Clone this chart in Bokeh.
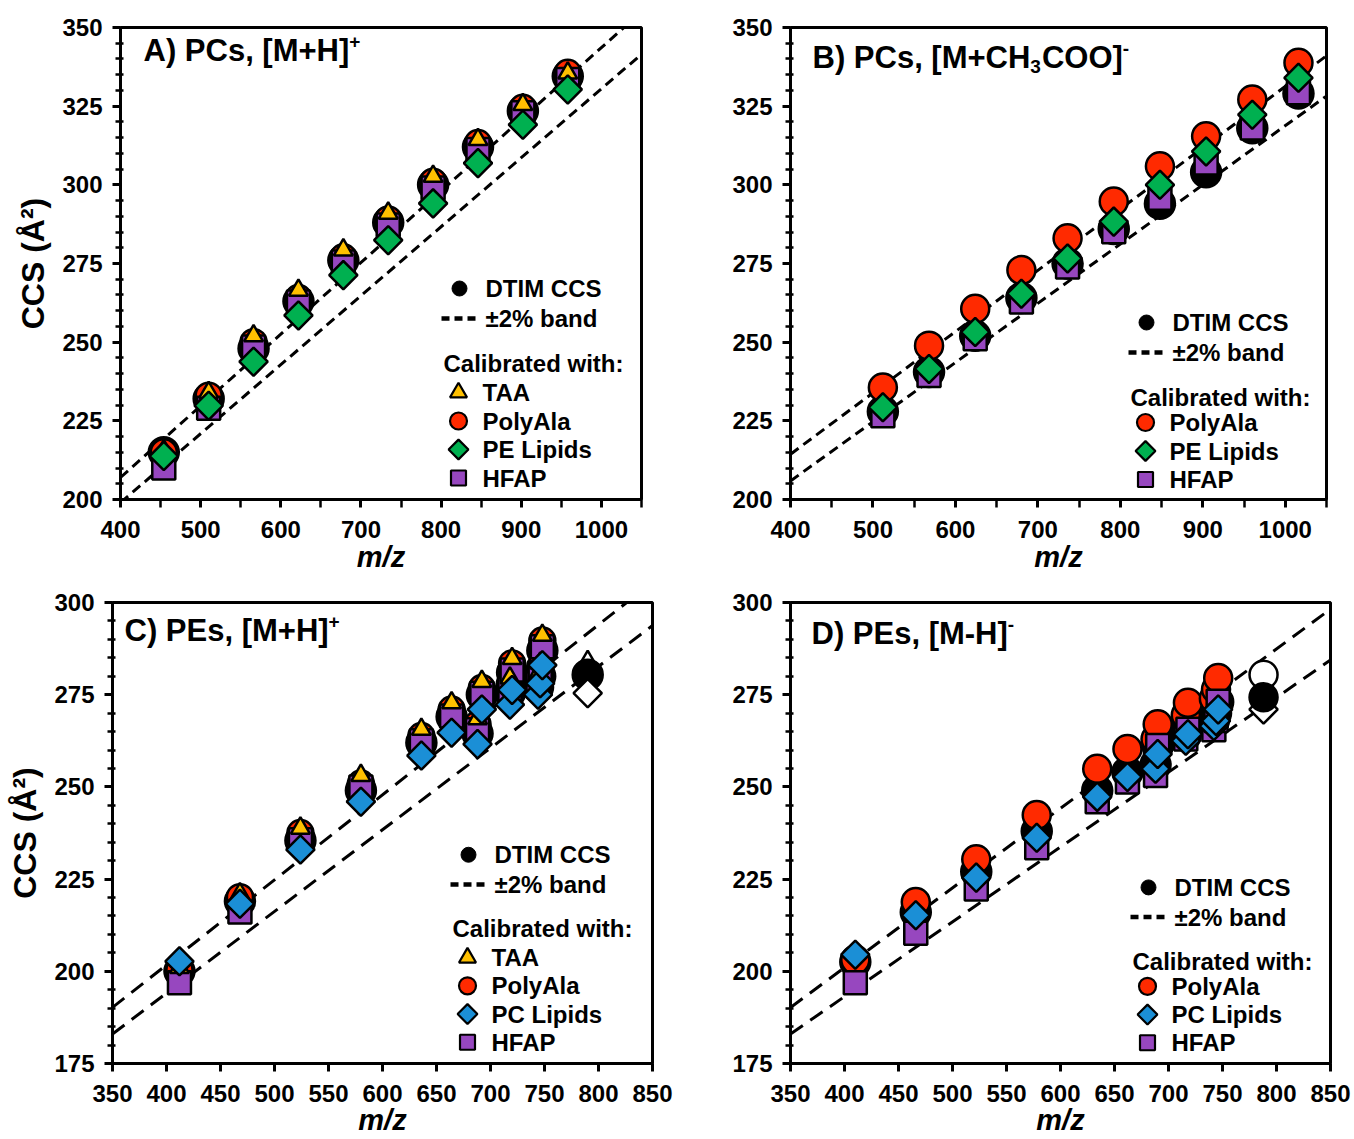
import numpy as np
from bokeh.plotting import figure
from bokeh.layouts import row, column
from bokeh.models import Range1d, FixedTicker
from bokeh.embed import file_html
from bokeh.resources import INLINE
from bokeh.core.properties import value

FONT = "Liberation Sans"
RED = "#FF2A00"
YELLOW = "#FFC000"
GREEN = "#00B050"
BLUE = "#1B8FD6"
PURPLE = "#9747BF"

# ---------------- data ----------------
# A) PCs [M+H]+
a_mz = [454, 510, 566, 622, 678, 734, 790, 846, 902, 958]
a_dtim = [215.0, 232.0, 248.0, 263.0, 276.0, 288.0, 300.0, 312.0, 323.5, 334.5]
a_taa = [215.5, 234.0, 252.0, 266.5, 279.3, 291.0, 302.7, 314.4, 325.5, 335.5]
a_polyala = [215.0, 233.0, 250.0, 264.0, 277.0, 289.0, 301.0, 313.3, 324.5, 335.6]
a_hfap = [210.0, 229.0, 248.5, 262.8, 275.5, 287.2, 299.0, 311.2, 322.9, 333.5]
a_lipid = [213.8, 229.8, 243.8, 258.5, 271.3, 282.4, 294.1, 306.9, 319.1, 330.3]
a_band_x = [400, 1050]
a_band_hi = [207.0, 355.0]
a_band_lo = [199.0, 341.5]

# B) PCs [M+CH3COO]-
b_mz = [512, 568, 624, 680, 736, 792, 848, 904, 960, 1016]
b_dtim = [228.0, 240.5, 252.0, 264.0, 275.0, 286.0, 294.0, 304.0, 318.0, 329.0]
b_polyala = [235.6, 248.9, 260.6, 272.9, 283.0, 294.7, 305.9, 315.4, 327.1, 338.8]
b_hfap = [226.6, 239.4, 251.1, 262.8, 273.9, 285.1, 295.7, 306.9, 318.1, 329.3]
b_lipid = [229.3, 241.5, 253.2, 265.4, 276.6, 288.3, 300.0, 310.6, 322.3, 334.0]
b_band_x = [400, 1050]
b_band_hi = [214.4, 341.0]
b_band_lo = [205.9, 328.2]

# C) PEs [M+H]+
c_mz = [412, 468, 524, 580, 636, 664, 688, 692, 718, 720, 744, 746, 748]
c_dtim = [200.0, 219.0, 235.5, 249.0, 262.0, 269.0, 264.5, 275.0, 275.5, 281.0, 277.0, 280.0, 287.0]
c_taa = [201.0, 221.0, 238.8, 253.1, 265.6, 272.8, 268.5, 278.6, 279.5, 284.8, 280.5, 283.5, 291.1]
c_polyala = [200.5, 220.1, 237.5, 250.9, 263.8, 271.0, 267.0, 276.8, 278.0, 283.5, 279.5, 282.5, 289.7]
c_hfap = [196.9, 216.1, 235.7, 250.0, 262.5, 269.2, 265.5, 275.4, 276.5, 281.7, 278.0, 281.0, 288.0]
c_lipid = [202.7, 218.3, 233.0, 246.0, 258.5, 264.7, 261.6, 271.0, 272.3, 276.3, 275.0, 278.1, 283.0]
c_out_mz = [790]
c_out_dtim = [280.4]
c_out_taa = [284.0]
c_out_lipid = [275.4]
c_band_x = [350, 850]
c_band_hi = [190.2, 305.5]
c_band_lo = [183.0, 293.75]

# D) PEs [M-H]-
d_mz = [410, 466, 522, 578, 634, 662, 688, 690, 716, 718, 742, 744, 746]
d_dtim = [202.5, 216.0, 227.0, 238.0, 249.0, 254.0, 256.0, 261.0, 264.0, 267.0, 268.0, 270.0, 273.0]
d_polyala = [203.1, 218.8, 230.4, 242.4, 254.9, 260.3, 263.0, 267.0, 269.5, 272.8, 274.0, 276.5, 279.5]
d_hfap = [196.9, 210.3, 222.3, 233.5, 246.0, 251.3, 253.1, 261.2, 263.0, 265.6, 265.5, 268.0, 273.2]
d_lipid = [204.5, 215.2, 225.4, 236.2, 247.3, 252.7, 254.9, 258.9, 262.5, 264.3, 266.5, 267.9, 271.0]
d_out_mz = [788]
d_out_polyala = [280.4]
d_out_dtim = [274.3]
d_out_lipid = [271.0]
d_band_x = [350, 850]
d_band_hi = [190.2, 298.2]
d_band_lo = [183.0, 284.4]

# Arial/Liberation Sans Bold advance widths (per 1000 em)
WIDTHS = {'A': 722, 'B': 722, 'C': 722, 'D': 722, 'E': 667, 'H': 722, 'M': 833, 'O': 778,
          'P': 667, '[': 333, ']': 333, ')': 333, ',': 278, ' ': 278, '+': 584, '-': 333,
          's': 556, '3': 556}


def text_w(s, size):
    return sum(WIDTHS.get(ch, 600) for ch in s) * size / 1000.0


def build(cfg):
    L, T, R, B = cfg["frame"]
    ox, oy = cfg["origin"]
    fw, fh = cfg["size"]
    x0, x1 = cfg["xr"]
    y0, y1 = cfg["yr"]
    p = figure(width=fw, height=fh, x_range=Range1d(x0, x1), y_range=Range1d(y0, y1),
               output_backend="svg", toolbar_location=None,
               min_border_left=L - ox, min_border_right=fw - (R - ox),
               min_border_top=T - oy, min_border_bottom=fh - (B - oy))
    p.grid.visible = False
    p.outline_line_color = "black"
    p.outline_line_width = 3
    p.background_fill_color = "white"
    p.border_fill_color = "white"

    def X(px):
        return x0 + px * (x1 - x0) / (R - L)

    def Y(py):
        return y1 - py * (y1 - y0) / (B - T)

    xa = p.xaxis[0]
    ya = p.yaxis[0]
    xa.ticker = FixedTicker(ticks=cfg["xticks"], minor_ticks=cfg["xminor"])
    ya.ticker = FixedTicker(ticks=cfg["yticks"], minor_ticks=cfg["yminor"])
    for ax in (xa, ya):
        ax.axis_line_width = 3
        ax.axis_line_color = "black"
        ax.major_tick_line_width = 3
        ax.minor_tick_line_width = 2.5
        ax.major_tick_line_color = "black"
        ax.minor_tick_line_color = "black"
        ax.major_label_text_font = FONT
        ax.major_label_text_font_style = "bold"
        ax.major_label_text_font_size = "24px"
        ax.major_label_text_color = "black"
    xa.major_label_standoff = 13
    ya.major_label_standoff = 10
    xa.major_tick_out = 8
    xa.major_tick_in = 0
    xa.minor_tick_out = 8
    xa.minor_tick_in = 0
    ya.major_tick_out = 8
    ya.major_tick_in = 0
    ya.minor_tick_out = 5
    ya.minor_tick_in = 3

    xa.axis_label = "m/z"
    xa.axis_label_text_font = FONT
    xa.axis_label_text_font_style = "bold italic"
    xa.axis_label_text_font_size = "29px"
    xa.axis_label_text_color = "black"
    xa.axis_label_standoff = cfg["mz_standoff"]

    if cfg["ylabel"]:
        ya.axis_label = "CCS (Å²)"
        ya.axis_label_text_font = FONT
        ya.axis_label_text_font_style = "bold"
        ya.axis_label_text_font_size = "32px"
        ya.axis_label_text_color = "black"
        ya.axis_label_standoff = 8

    # +-2% band
    for ys in (cfg["band_hi"], cfg["band_lo"]):
        p.line(cfg["band_x"], ys, line_color="black", line_width=3, line_dash=cfg["dash"])

    # data series (bottom to top)
    for s in cfg["series"]:
        p.scatter(s["x"], s["y"], marker=s["marker"], size=s["size"], angle=s.get("angle", 0.0),
                  fill_color=s["color"], line_color="black", line_width=2.5)

    # title with super/subscripts
    tx, ty = cfg["title_pos"]
    cur = tx
    for txt, size, dy in cfg["title"]:
        p.text(x=[X(cur)], y=[Y(ty + dy)], text=[txt], text_font=value(FONT),
               text_font_style="bold", text_font_size=f"{size}px", text_color="black",
               text_align="left", text_baseline="middle")
        cur += text_w(txt, size) + (1 if size < 25 else 0)

    # legend
    h, ly = cfg["legend_pos"]
    fs = "24px"

    def ltext(px, py, t):
        p.text(x=[X(px)], y=[Y(py)], text=[t], text_font=value(FONT), text_font_style="bold",
               text_font_size=fs, text_color="black", text_align="left", text_baseline="middle")

    p.scatter([X(h + 16)], [Y(ly)], marker="circle", size=15, fill_color="black",
              line_color="black", line_width=1)
    ltext(h + 42, ly, "DTIM CCS")
    p.line([X(h - 2), X(h + 35)], [Y(ly + 30), Y(ly + 30)], line_color="black",
           line_width=4.5, line_dash="8 5")
    ltext(h + 42, ly + 30, "±2% band")
    ltext(h, ly + 75, "Calibrated with:")
    items = cfg["legend_items"]
    start = ly + 75 + (29 if len(items) == 4 else 25)
    for i, (marker, color, size, angle, label) in enumerate(items):
        yy = start + i * 28.5
        p.scatter([X(h + 15)], [Y(yy)], marker=marker, size=size, angle=angle,
                  fill_color=color, line_color="black", line_width=2.2)
        ltext(h + 39, yy, label)
    return p


DIA = np.pi / 4
S_DTIM, S_RED, S_SQ, S_TRI, S_DIA = 30, 26, 23, 19, 20
Y_MINOR_A = [v for v in range(200, 351, 5) if v % 25]
Y_MINOR_C = [v for v in range(175, 301, 5) if v % 25]

# frames of the same row share top/bottom (Bokeh aligns them)
TOP1, BOT1 = 27, 499
TOP2, BOT2 = 602, 1068

cfgA = dict(frame=(120, TOP1, 641, BOT1), origin=(0, 0), size=(698, 578),
            xr=(400, 1050), yr=(200, 350),
            xticks=list(range(400, 1001, 100)), xminor=list(range(450, 1051, 100)),
            yticks=list(range(200, 351, 25)), yminor=Y_MINOR_A,
            ylabel=True, mz_standoff=0, band_x=a_band_x, band_hi=a_band_hi, band_lo=a_band_lo,
            dash="10 6",
            series=[dict(x=a_mz, y=a_dtim, marker="circle", size=S_DTIM, color="black"),
                    dict(x=a_mz, y=a_polyala, marker="circle", size=S_RED, color=RED),
                    dict(x=a_mz, y=a_hfap, marker="square", size=S_SQ, color=PURPLE),
                    dict(x=a_mz, y=a_taa, marker="triangle", size=S_TRI, color=YELLOW),
                    dict(x=a_mz, y=a_lipid, marker="square", size=S_DIA, color=GREEN, angle=DIA)],
            title_pos=(23, 23), title=[("A) PCs, [M+H]", 31, 0), ("+", 19, -9)],
            legend_pos=(323, 261),
            legend_items=[("triangle", YELLOW, 17, 0.0, "TAA"),
                          ("circle", RED, 17, 0.0, "PolyAla"),
                          ("square", GREEN, 14, DIA, "PE Lipids"),
                          ("square", PURPLE, 15, 0.0, "HFAP")])

cfgB = dict(frame=(790, TOP1, 1326, BOT1), origin=(698, 0), size=(655, 578),
            xr=(400, 1050), yr=(200, 350),
            xticks=list(range(400, 1001, 100)), xminor=list(range(450, 1051, 100)),
            yticks=list(range(200, 351, 25)), yminor=Y_MINOR_A,
            ylabel=False, mz_standoff=0, band_x=b_band_x, band_hi=b_band_hi, band_lo=b_band_lo,
            dash="10 6",
            series=[dict(x=b_mz, y=b_dtim, marker="circle", size=S_DTIM, color="black"),
                    dict(x=b_mz, y=b_polyala, marker="circle", size=S_RED + 2, color=RED),
                    dict(x=b_mz, y=b_hfap, marker="square", size=S_SQ, color=PURPLE),
                    dict(x=b_mz, y=b_lipid, marker="square", size=S_DIA, color=GREEN, angle=DIA)],
            title_pos=(22, 30),
            title=[("B) PCs, [M+CH", 31, 0), ("3", 19, 9), ("COO]", 31, 0), ("-", 19, -9)],
            legend_pos=(340, 295),
            legend_items=[("circle", RED, 17, 0.0, "PolyAla"),
                          ("square", GREEN, 14, DIA, "PE Lipids"),
                          ("square", PURPLE, 15, 0.0, "HFAP")])

cfgC = dict(frame=(112, TOP2, 652, BOT2), origin=(0, 578), size=(698, 560),
            xr=(350, 850), yr=(175, 300),
            xticks=list(range(350, 851, 50)), xminor=[],
            yticks=list(range(175, 301, 25)), yminor=Y_MINOR_C,
            ylabel=True, mz_standoff=-1, band_x=c_band_x, band_hi=c_band_hi, band_lo=c_band_lo,
            dash="15 9",
            series=[dict(x=c_out_mz, y=c_out_taa, marker="triangle", size=S_TRI, color="white"),
                    dict(x=c_mz, y=c_dtim, marker="circle", size=S_DTIM, color="black"),
                    dict(x=c_mz, y=c_polyala, marker="circle", size=S_RED, color=RED),
                    dict(x=c_mz, y=c_hfap, marker="square", size=S_SQ, color=PURPLE),
                    dict(x=c_mz, y=c_taa, marker="triangle", size=S_TRI, color=YELLOW),
                    dict(x=c_mz, y=c_lipid, marker="square", size=S_DIA, color=BLUE, angle=DIA),
                    dict(x=c_out_mz, y=c_out_dtim, marker="circle", size=S_DTIM, color="black"),
                    dict(x=c_out_mz, y=c_out_lipid, marker="square", size=S_DIA, color="white",
                         angle=DIA)],
            title_pos=(12, 28), title=[("C) PEs, [M+H]", 31, 0), ("+", 19, -9)],
            legend_pos=(340, 255),
            legend_items=[("triangle", YELLOW, 17, 0.0, "TAA"),
                          ("circle", RED, 17, 0.0, "PolyAla"),
                          ("square", BLUE, 14, DIA, "PC Lipids"),
                          ("square", PURPLE, 15, 0.0, "HFAP")])

cfgD = dict(frame=(790, TOP2, 1330, BOT2), origin=(698, 578), size=(655, 560),
            xr=(350, 850), yr=(175, 300),
            xticks=list(range(350, 851, 50)), xminor=[],
            yticks=list(range(175, 301, 25)), yminor=Y_MINOR_C,
            ylabel=False, mz_standoff=-1, band_x=d_band_x, band_hi=d_band_hi, band_lo=d_band_lo,
            dash="15 9",
            series=[dict(x=d_out_mz, y=d_out_polyala, marker="circle", size=S_RED + 2, color="white"),
                    dict(x=d_out_mz, y=d_out_lipid, marker="square", size=S_DIA, color="white",
                         angle=DIA),
                    dict(x=d_mz, y=d_dtim, marker="circle", size=S_DTIM, color="black"),
                    dict(x=d_mz, y=d_polyala, marker="circle", size=S_RED + 2, color=RED),
                    dict(x=d_mz, y=d_hfap, marker="square", size=S_SQ, color=PURPLE),
                    dict(x=d_mz, y=d_lipid, marker="square", size=S_DIA, color=BLUE, angle=DIA),
                    dict(x=d_out_mz, y=d_out_dtim, marker="circle", size=S_DTIM - 2, color="black")],
            title_pos=(21, 31), title=[("D) PEs, [M-H]", 31, 0), ("-", 19, -9)],
            legend_pos=(342, 288),
            legend_items=[("circle", RED, 17, 0.0, "PolyAla"),
                          ("square", BLUE, 14, DIA, "PC Lipids"),
                          ("square", PURPLE, 15, 0.0, "HFAP")])

pA, pB, pC, pD = (build(c) for c in (cfgA, cfgB, cfgC, cfgD))
layout = column(row(pA, pB, spacing=0), row(pC, pD, spacing=0), spacing=0)

open("out.html", "w").write(file_html(layout, INLINE))
